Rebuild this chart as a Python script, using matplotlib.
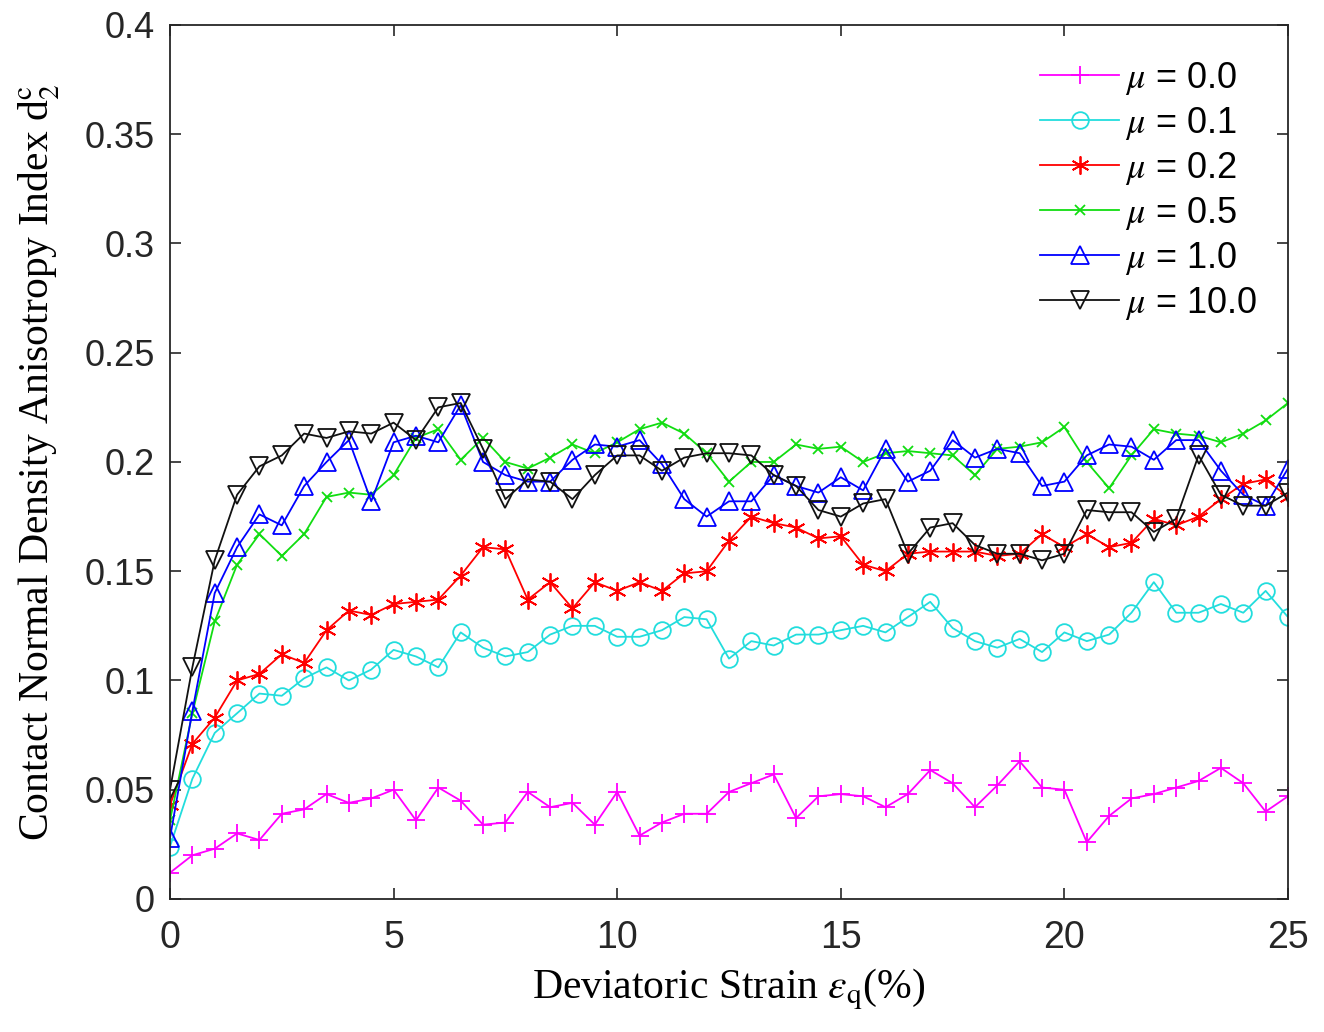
import numpy as np
import matplotlib
matplotlib.use('Agg')
import matplotlib.pyplot as plt

plt.rcParams['mathtext.fontset'] = 'stix'

strain = np.arange(0, 25.01, 0.5)

mu_00 = [0.012, 0.020, 0.023, 0.030, 0.027, 0.039, 0.041, 0.048, 0.044, 0.046,
         0.050, 0.036, 0.051, 0.045, 0.034, 0.035, 0.049, 0.042, 0.044, 0.034,
         0.049, 0.029, 0.035, 0.039, 0.039, 0.049, 0.053, 0.057, 0.037, 0.047,
         0.048, 0.047, 0.042, 0.048, 0.059, 0.053, 0.042, 0.052, 0.063, 0.051,
         0.050, 0.026, 0.038, 0.046, 0.048, 0.051, 0.054, 0.060, 0.053, 0.040,
         0.047]
mu_01 = [0.024, 0.055, 0.076, 0.085, 0.094, 0.093, 0.101, 0.106, 0.100, 0.105,
         0.114, 0.111, 0.106, 0.122, 0.115, 0.111, 0.113, 0.121, 0.125, 0.125,
         0.120, 0.120, 0.123, 0.129, 0.128, 0.110, 0.118, 0.116, 0.121, 0.121,
         0.123, 0.125, 0.122, 0.129, 0.136, 0.124, 0.118, 0.115, 0.119, 0.113,
         0.122, 0.118, 0.121, 0.131, 0.145, 0.131, 0.131, 0.135, 0.131, 0.141,
         0.129]
mu_02 = [0.043, 0.071, 0.083, 0.100, 0.103, 0.112, 0.108, 0.123, 0.132, 0.130,
         0.135, 0.136, 0.137, 0.148, 0.161, 0.160, 0.137, 0.145, 0.133, 0.145,
         0.141, 0.145, 0.141, 0.149, 0.150, 0.164, 0.175, 0.172, 0.170, 0.165,
         0.166, 0.153, 0.150, 0.158, 0.159, 0.159, 0.159, 0.157, 0.158, 0.167,
         0.161, 0.167, 0.161, 0.163, 0.174, 0.171, 0.175, 0.183, 0.190, 0.192,
         0.184]
mu_05 = [0.036, 0.085, 0.127, 0.153, 0.167, 0.157, 0.167, 0.184, 0.186, 0.185,
         0.194, 0.211, 0.215, 0.201, 0.211, 0.200, 0.197, 0.202, 0.208, 0.204,
         0.209, 0.215, 0.218, 0.213, 0.204, 0.191, 0.200, 0.200, 0.208, 0.206,
         0.207, 0.200, 0.204, 0.205, 0.204, 0.203, 0.194, 0.206, 0.207, 0.209,
         0.216, 0.200, 0.188, 0.203, 0.215, 0.213, 0.212, 0.209, 0.213, 0.219,
         0.227]
mu_10 = [0.028, 0.086, 0.140, 0.161, 0.176, 0.171, 0.189, 0.200, 0.210, 0.182,
         0.209, 0.212, 0.209, 0.226, 0.200, 0.194, 0.191, 0.191, 0.201, 0.208,
         0.207, 0.210, 0.199, 0.183, 0.175, 0.182, 0.182, 0.194, 0.189, 0.186,
         0.193, 0.187, 0.206, 0.191, 0.196, 0.210, 0.202, 0.206, 0.204, 0.189,
         0.191, 0.203, 0.208, 0.207, 0.201, 0.210, 0.210, 0.196, 0.185, 0.180,
         0.197]
mu_100 = [0.050, 0.106, 0.155, 0.185, 0.198, 0.203, 0.213, 0.211, 0.214, 0.213,
          0.218, 0.210, 0.225, 0.227, 0.206, 0.183, 0.192, 0.191, 0.183, 0.194,
          0.203, 0.203, 0.196, 0.202, 0.204, 0.204, 0.203, 0.194, 0.189, 0.178,
          0.175, 0.181, 0.183, 0.158, 0.170, 0.172, 0.162, 0.158, 0.158, 0.155,
          0.158, 0.178, 0.177, 0.177, 0.168, 0.174, 0.203, 0.185, 0.180, 0.180,
          0.186]

labels = [r'$\mu$ = 0.0', r'$\mu$ = 0.1', r'$\mu$ = 0.2',
          r'$\mu$ = 0.5', r'$\mu$ = 1.0', r'$\mu$ = 10.0']

fig = plt.figure(figsize=(13.24, 10.32), dpi=100)
ax = fig.add_axes([0.1284, 0.1289, 0.8444, 0.8469])

lw = 1.3
ax.plot(strain, mu_00, color='#ff00ff', marker='+', ms=13, mew=1.3, lw=lw, label=labels[0])
ax.plot(strain, mu_01, color='#22dddd', marker='o', ms=12, mfc='none', mew=1.3, lw=lw, label=labels[1])
ax.plot(strain, mu_02, color='#ff0000', marker=(6, 2, 0), ms=13, mew=1.3, lw=lw, label=labels[2])
ax.plot(strain, mu_05, color='#11dd11', marker='x', ms=7, mew=1.3, lw=lw, label=labels[3])
ax.plot(strain, mu_10, color='#0000ff', marker='^', ms=13, mfc='none', mew=1.3, lw=lw, label=labels[4])
ax.plot(strain, mu_100, color='#111111', marker='v', ms=13, mfc='none', mew=1.3, lw=lw, label=labels[5])

ax.set_xlim(0, 25)
ax.set_ylim(0, 0.4)
ax.set_xticks([0, 5, 10, 15, 20, 25])
yt = [0, 0.05, 0.1, 0.15, 0.2, 0.25, 0.3, 0.35, 0.4]
ax.set_yticks(yt)
ax.set_yticklabels(['0', '0.05', '0.1', '0.15', '0.2', '0.25', '0.3', '0.35', '0.4'])
ax.tick_params(direction='in', length=8, width=1.2, top=True, right=True,
               labelsize=26, pad=11, colors='#262626')
ax.tick_params(axis='x', labelsize=27, pad=15)
for lab in ax.get_xticklabels() + ax.get_yticklabels():
    lab.set_family('Liberation Sans')
for sp in ax.spines.values():
    sp.set_color('#262626')
    sp.set_linewidth(1.3)

ax.set_xlabel(r'Deviatoric Strain $\varepsilon_{\mathrm{q}}$(%)', family='Liberation Serif',
              fontsize=30, labelpad=8)
ax.set_ylabel(r'Contact Normal Density Anisotropy Index d$_2^{\mathrm{c}}$',
              family='Liberation Serif', fontsize=30, labelpad=16)

leg = ax.legend(loc='upper left', bbox_to_anchor=(1040 / 1324, 1 - 60 / 1032),
                bbox_transform=fig.transFigure, frameon=False,
                prop={'family': 'Liberation Sans', 'size': 26},
                handlelength=2.2, handletextpad=0.15, labelspacing=0.22,
                borderpad=0, borderaxespad=0)

plt.savefig('out.png', dpi=100)
